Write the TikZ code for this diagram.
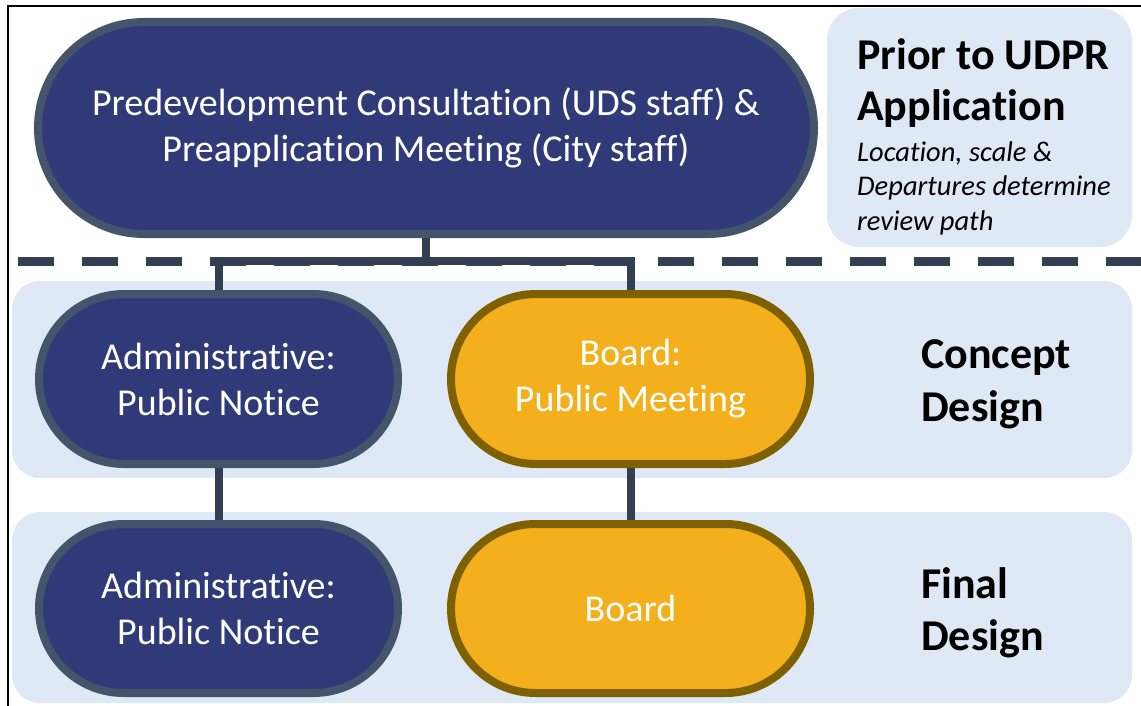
\documentclass[tikz,border=0pt]{standalone}
\usepackage{fontspec}
\setmainfont[Ligatures=NoCommon]{Carlito}
\usetikzlibrary{shapes.misc}
\definecolor{navy}{HTML}{313A78}
\definecolor{pillborder}{HTML}{44546A}
\definecolor{connc}{HTML}{333F50}
\definecolor{gold}{HTML}{F4B01C}
\definecolor{goldborder}{HTML}{7F6000}
\definecolor{band}{HTML}{DEE9F5}
\begin{document}
\begin{tikzpicture}[x=1pt,y=-1pt,
  pill/.style={rounded rectangle, line width=8pt, text=white, align=center,
    inner sep=0pt, font=\fontsize{38}{46}\selectfont},
  navypill/.style={pill, fill=navy, draw=pillborder},
  goldpill/.style={pill, fill=gold, draw=goldborder},
  conn/.style={draw=connc, line width=8pt},
  bandbox/.style={fill=band, rounded corners=28pt},
  bigl/.style={anchor=base west, inner sep=0pt, font=\bfseries\fontsize{44}{52}\selectfont},
  smalll/.style={anchor=base west, inner sep=0pt, font=\itshape\fontsize{28.5}{34}\selectfont}]
\useasboundingbox (0,0) rectangle (1141,706);
\fill[white] (0,0) rectangle (1141,706);
% background bands
\fill[bandbox] (12,281) rectangle (1132,478);
\fill[bandbox] (12,512) rectangle (1132,703);
\fill[bandbox, rounded corners=32pt] (827,8) rectangle (1132,247);
% dashed separator
\draw[connc, line width=9pt, dash pattern=on 36pt off 28pt] (18,261) -- (1141,261);
% frame
\draw[black, line width=2.5pt] (8,706) -- (8,6) -- (1141,6);
% pills
\node[navypill, minimum width=776pt, minimum height=212pt] (top) at (426,128)
  {Predevelopment Consultation (UDS staff) \&\\Preapplication Meeting (City staff)};
\node[navypill, minimum width=359pt, minimum height=170pt] (a1) at (218.5,379)
  {Administrative:\\Public Notice};
\node[goldpill, minimum width=359pt, minimum height=170pt] (b1) at (630.5,379)
  {Board:\\Public Meeting};
\node[navypill, minimum width=359pt, minimum height=169pt] (a2) at (218.5,608.5)
  {Administrative:\\Public Notice};
\node[goldpill, minimum width=359pt, minimum height=169pt] (b2) at (630.5,608.5)
  {Board};
% connectors
\coordinate (j) at (426,261);
\draw[conn] (top.south) -- (j);
\draw[conn] (a1.north) |- (j) -| (b1.north);
\draw[conn] (a1.south) -- (a2.north);
\draw[conn] (b1.south) -- (b2.north);
% labels
\node[bigl] (p1) at (857,70) {Prior to UDPR};
\node[bigl] (p2) at (857,121) {Application};
\node[smalll] (s1) at (857,162) {Location, scale \&};
\node[smalll] (s2) at (857,196) {Departures determine};
\node[smalll] (s3) at (857,230) {review path};
\node[bigl] (c1) at (921,368) {Concept};
\node[bigl] (c2) at (921,421) {Design};
\node[bigl] (f1) at (921,598) {Final};
\node[bigl] (f2) at (921,650) {Design};
\end{tikzpicture}
\end{document}
